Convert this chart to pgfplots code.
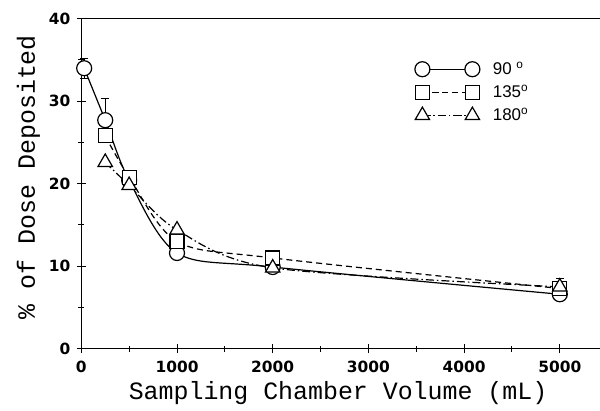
\documentclass[border=0pt]{standalone}
\usepackage{pgfplots}
\pgfplotsset{compat=1.18}
\usepackage{fontspec}
\setmainfont{Liberation Mono}
\newfontfamily\tickfont{DejaVu Sans}
\newfontfamily\legfont{Liberation Sans}
\begin{document}
\begin{tikzpicture}
\path[use as bounding box] (-81.3bp,-62.3bp) rectangle (518.7bp,348.7bp);
\begin{axis}[
  at={(0,0)}, anchor=south west,
  scale only axis, width=518.7bp, height=330bp,
  xmin=0, xmax=5420, ymin=0, ymax=40,
  axis x line*=bottom, axis y line*=left,
  axis line style={line width=1.1bp},
  xtick={0,1000,2000,3000,4000,5000},
  ytick={0,10,20,30,40},
  minor x tick num=1, minor y tick num=1,
  tick align=center,
  major tick length=9bp, minor tick length=6bp,
  tick style={black, line width=1bp},
  tick label style={font=\tickfont\bfseries\fontsize{15.5}{17}\selectfont},
  yticklabel style={xshift=-3bp},
  xticklabel style={yshift=-4bp},
  /pgf/number format/assume math mode=true,
  /pgf/number format/1000 sep={},
  xlabel={Sampling Chamber Volume (mL)},
  ylabel={\% of Dose Deposited},
  label style={font=\fontsize{25}{28}\selectfont},
  x label style={at={(axis description cs:0.495,-0.135)}, anchor=center},
  y label style={at={(axis description cs:-0.102,0.52)}, anchor=center},
  legend style={font=\legfont\fontsize{17}{19}\selectfont, draw=none, fill=none,
    at={(axis description cs:0.637,0.881)}, anchor=north west, row sep=5bp,
    cells={anchor=west}},
  legend image code/.code={\draw[#1] plot coordinates {(0bp,0bp) (50bp,0bp)};},
  clip=false,
]
\draw[line width=1.1bp] (rel axis cs:0,1) -- (rel axis cs:1,1);
\addplot[draw=none, mark=none, forget plot,
  error bars/.cd, y dir=both, y explicit,
  error bar style={draw=black, solid, line width=1bp},
  error mark options={rotate=90, mark size=4bp, draw=black, line width=1bp}]
  coordinates {(30,34.0) +- (0,1.2) (250,27.7) +- (0,2.6) (5000,7.3) +- (0,1.2)};
\addplot[black, line width=1.2bp, smooth, mark=*, mark options={solid, fill=white, mark size=7.5bp, line width=1.2bp}]
  coordinates {(30,34.0) (250,27.7) (500,20.4) (1000,11.6) (2000,9.9) (5000,6.6)};
\addlegendentry{\hspace*{11bp}90~\textsuperscript{o}}
\addplot[black, line width=1.2bp, smooth, dash pattern=on 6bp off 4bp, mark=square*, mark options={solid, fill=white, mark size=7bp, line width=1.2bp}]
  coordinates {(250,25.8) (500,20.8) (1000,13.0) (2000,11.0) (5000,7.3)};
\addlegendentry{\hspace*{11bp}135\textsuperscript{o}}
\addplot[black, line width=1.2bp, smooth, dash pattern=on 8bp off 3bp on 1.5bp off 3bp, mark=triangle*, mark options={solid, fill=white, mark size=8.3bp, line width=1.2bp}]
  coordinates {(250,22.6) (500,19.8) (1000,14.4) (2000,9.8) (5000,7.5)};
\addlegendentry{\hspace*{11bp}180\textsuperscript{o}}
\end{axis}
\end{tikzpicture}
\end{document}
